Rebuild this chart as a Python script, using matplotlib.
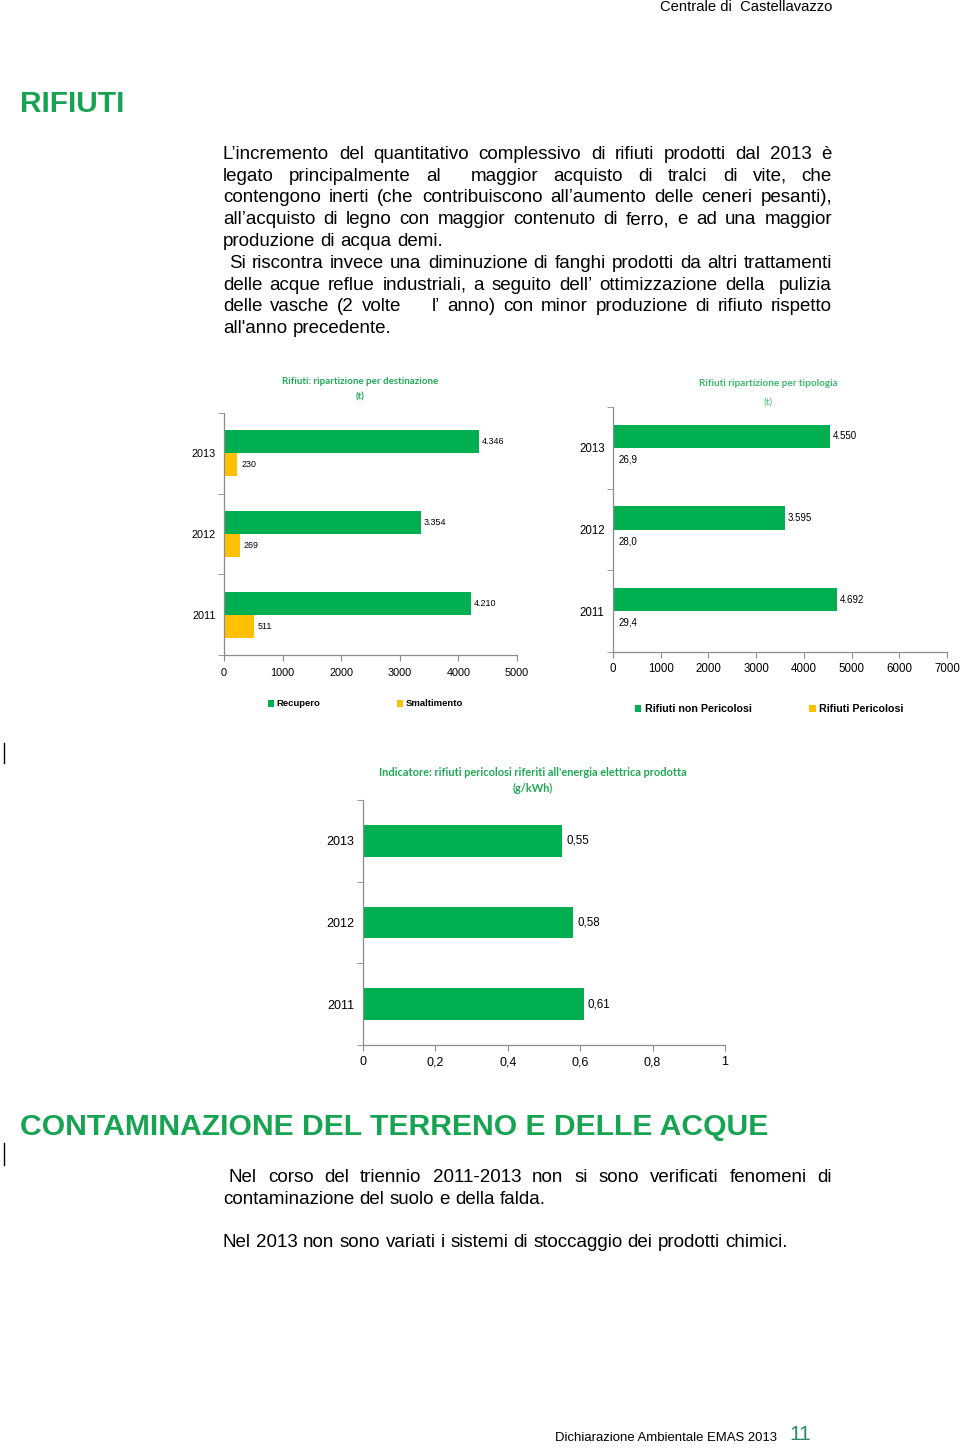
import numpy as np
import matplotlib
matplotlib.use("Agg")
import matplotlib.pyplot as plt
from matplotlib.lines import Line2D
from matplotlib.ticker import FuncFormatter, FixedLocator

# ---------- data ----------
years = ["2011", "2012", "2013"]
recupero = [4210, 3354, 4346]
smaltimento = [511, 269, 230]
non_pericolosi = [4692, 3595, 4550]
pericolosi = [29.4, 28.0, 26.9]
indicatore = [0.61, 0.58, 0.55]

GREEN = "#00b050"
ORANGE = "#ffc000"
HEAD_GREEN = "#16a352"
SANS = ["Liberation Sans", "DejaVu Sans"]
TITLE = ["Lato", "Liberation Sans", "DejaVu Sans"]

W, H = 960, 1448
fig = plt.figure(figsize=(W / 100, H / 100), dpi=100)
renderer = fig.canvas.get_renderer()


def fx(x):
    return x / W


def fy(y):
    return 1 - y / H


def it_int(v):
    return f"{v:,.0f}".replace(",", ".")


def it_dec(v, n=1):
    return f"{v:.{n}f}".replace(".", ",")


def text_px(x, y, s, **kw):
    kw.setdefault("va", "center")
    return fig.text(fx(x), fy(y), s, **kw)


def fit_text(x, y, s, width, **kw):
    # pick the font size that gives the text the wanted pixel width
    kw.setdefault("family", SANS)
    t = text_px(x, y, s, size=10, **kw)
    w = t.get_window_extent(renderer=renderer).width
    t.set_fontsize(10 * width / w)
    return t


def justify(line, x0, x1, y, size=13.5, last=False):
    words = line.split(" ")
    widths = []
    for w in words:
        if not w:
            widths.append(0)
            continue
        t = fig.text(0, 0, w, size=size, family=SANS)
        widths.append(t.get_window_extent(renderer=renderer).width)
        t.remove()
    if last or len(words) < 2:
        t = fig.text(0, 0, "a b", size=size, family=SANS)
        t2 = fig.text(0, 0, "ab", size=size, family=SANS)
        gap = (t.get_window_extent(renderer=renderer).width
               - t2.get_window_extent(renderer=renderer).width)
        t.remove(); t2.remove()
    else:
        gap = (x1 - x0 - sum(widths)) / (len(words) - 1)
    x = x0
    for w, wd in zip(words, widths):
        if w:
            text_px(x, y, w, size=size, family=SANS, ha="left", va="baseline")
        x += wd + gap


# ---------- page text ----------
text_px(832, 7, "Centrale di  Castellavazzo", size=10.6, family=SANS, ha="right")
fit_text(20, 104, "RIFIUTI", 104, weight="bold", color=HEAD_GREEN, ha="left")

para1 = [
    ("L’incremento del quantitativo complessivo di rifiuti prodotti dal 2013 è", 223, False),
    ("legato principalmente al  maggior acquisto di tralci di vite, che", 223, False),
    ("contengono inerti (che contribuiscono all’aumento delle ceneri pesanti),", 223, False),
    ("all’acquisto di legno con maggior contenuto di ferro, e ad una maggior", 223, False),
    ("produzione di acqua demi.", 223, True),
    ("Si riscontra invece una diminuzione di fanghi prodotti da altri trattamenti", 229, False),
    ("delle acque reflue industriali, a seguito dell’ ottimizzazione della  pulizia", 223, False),
    ("delle vasche (2 volte    l’ anno) con minor produzione di rifiuto rispetto", 223, False),
    ("all'anno precedente.", 223, True),
]
for i, (ln, x0, last) in enumerate(para1):
    justify(ln, x0, 832, 159 + i * 21.75, last=last)

fit_text(20, 1127, "CONTAMINAZIONE DEL TERRENO E DELLE ACQUE", 747,
         weight="bold", color=HEAD_GREEN, ha="left")
justify("Nel corso del triennio 2011-2013 non si sono verificati fenomeni di", 229, 832, 1182)
justify("contaminazione del suolo e della falda.", 223, 832, 1204, last=True)
justify("Nel 2013 non sono variati i sistemi di stoccaggio dei prodotti chimici.", 223, 832, 1247, last=True)

fit_text(555, 1438, "Dichiarazione Ambientale EMAS 2013", 223, ha="left")
text_px(789, 1435, "11", size=15, family=SANS, ha="left", color="#2e8b63")

# cursor marks at the left margin
for y0, y1 in [(743, 763), (1143, 1165)]:
    fig.add_artist(Line2D([fx(4), fx(4)], [fy(y0), fy(y1)], color="black", lw=1))


# ---------- charts ----------
def style_axes(ax, xmax, step, fmt, fs_tick, xpad):
    for s in ["top", "right"]:
        ax.spines[s].set_visible(False)
    for s in ["left", "bottom"]:
        ax.spines[s].set_color("#8c8c8c")
        ax.spines[s].set_linewidth(0.9)
    ax.set_xlim(0, xmax)
    ax.set_xticks(np.arange(0, xmax + step / 2, step))
    ax.xaxis.set_major_formatter(FuncFormatter(fmt))
    ax.set_ylim(-0.5, 2.5)
    ax.set_yticks(range(3))
    ax.set_yticklabels(years)
    ax.yaxis.set_minor_locator(FixedLocator([-0.5, 0.5, 1.5, 2.5]))
    ax.tick_params(axis="x", length=4, color="#8c8c8c", labelsize=fs_tick, pad=xpad)
    ax.tick_params(axis="y", which="major", length=0, labelsize=fs_tick, pad=6)
    ax.tick_params(axis="y", which="minor", length=4, color="#8c8c8c")
    for lab in ax.get_xticklabels() + ax.get_yticklabels():
        lab.set_family(SANS)


def grouped(ax, v1, v2, lab1, lab2, fmt1, fmt2, fs_lab):
    y = np.arange(3)
    h = 0.285
    b1 = ax.barh(y + h / 2, v1, height=h, color=GREEN, label=lab1)
    b2 = ax.barh(y - h / 2, v2, height=h, color=ORANGE, label=lab2)
    ax.bar_label(b1, labels=[fmt1(v) for v in v1], padding=2, fontsize=fs_lab, family=SANS)
    ax.bar_label(b2, labels=[fmt2(v) for v in v2], padding=3, fontsize=fs_lab, family=SANS)


# left chart: destinazione
ax1 = fig.add_axes([fx(224), fy(655), fx(517) - fx(224), (655 - 413) / H])
grouped(ax1, recupero, smaltimento, "Recupero", "Smaltimento", it_int, it_int, 6.4)
style_axes(ax1, 5000, 1000, lambda v, p: f"{v:.0f}", 7.8, 5)
t1 = fit_text(360, 381, "Rifiuti: ripartizione per destinazione", 156, weight="bold",
              family=TITLE, ha="center", color="#1fa855")
text_px(360, 397, "(t)", size=t1.get_fontsize(), weight="bold", family=TITLE,
        ha="center", color="#1fa855")
ax1.legend(loc="center left", bbox_to_anchor=(fx(268), fy(704)), bbox_transform=fig.transFigure,
           ncol=2, frameon=False, borderpad=0, borderaxespad=0, handlelength=0.6,
           handleheight=0.7, handletextpad=0.3, columnspacing=8.1,
           prop={"family": SANS, "weight": "bold", "size": 6.8})

# right chart: tipologia
ax2 = fig.add_axes([fx(613), fy(652), fx(947) - fx(613), (652 - 407) / H])
grouped(ax2, non_pericolosi, pericolosi, "Rifiuti non Pericolosi", "Rifiuti Pericolosi",
        it_int, it_dec, 7)
style_axes(ax2, 7000, 1000, lambda v, p: f"{v:.0f}", 8.3, 4)
t2 = fit_text(768, 383, "Rifiuti ripartizione per tipologia", 139, weight="bold",
              family=TITLE, ha="center", color="#3dbb6a")
text_px(768, 402, "(t)", size=t2.get_fontsize(), family=TITLE, ha="center", color="#3dbb6a")
ax2.legend(loc="center left", bbox_to_anchor=(fx(635), fy(709)), bbox_transform=fig.transFigure,
           ncol=2, frameon=False, borderpad=0, borderaxespad=0, handlelength=0.6,
           handleheight=0.7, handletextpad=0.3, columnspacing=5.4,
           prop={"family": SANS, "weight": "bold", "size": 7.7})

# bottom chart: indicatore
ax3 = fig.add_axes([fx(363), fy(1045), fx(725) - fx(363), (1045 - 800) / H])
b3 = ax3.barh(np.arange(3), indicatore, height=0.39, color=GREEN)
ax3.bar_label(b3, labels=[it_dec(v, 2) for v in indicatore], padding=3, fontsize=8.3, family=SANS)


def fmt3(v, p):
    return "0" if v == 0 else ("1" if abs(v - 1) < 1e-9 else it_dec(v, 1))


style_axes(ax3, 1.0, 0.2, fmt3, 9, 4)
t3 = fit_text(533, 772, "Indicatore: rifiuti pericolosi riferiti all'energia elettrica prodotta",
              307, weight="bold", family=TITLE, ha="center", color="#1fa855")
text_px(533, 788, "(g/kWh)", size=t3.get_fontsize(), weight="bold", family=TITLE,
        ha="center", color="#1fa855")

fig.savefig("out.png", dpi=100)
